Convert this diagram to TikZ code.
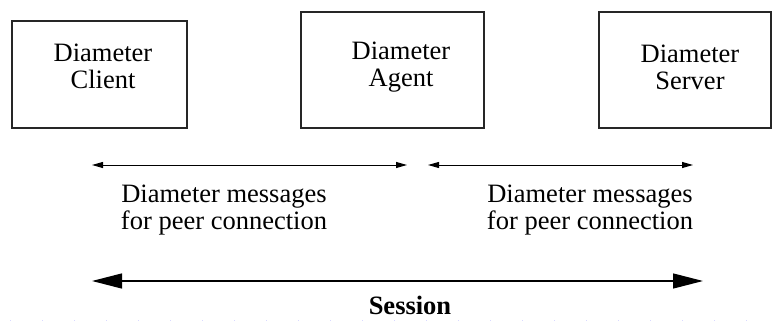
\documentclass[tikz,border=0pt]{standalone}
\usepackage{fontspec}
\setmainfont{Liberation Serif}
\usetikzlibrary{arrows.meta}
\begin{document}
\begin{tikzpicture}[x=1pt,y=-1pt,
  entity/.style={draw=black!85, line width=1.3pt, inner sep=0pt},
  lbl/.style={font=\fontsize{26.5}{27}\selectfont, align=center, inner sep=0pt},
  peer/.style={line width=1pt, {Triangle[length=11pt,width=6pt]}-{Triangle[length=11pt,width=6pt]}},
  sess/.style={line width=1.3pt, {Triangle[length=30pt,width=15pt]}-{Triangle[length=30pt,width=15pt]}}
]
\useasboundingbox (0,0) rectangle (772,321);
% boxes
\node[entity, minimum width=175pt, minimum height=107pt] (client) at (99.5,74.5) {};
\node[entity, minimum width=183pt, minimum height=116pt] (agent) at (392.5,70) {};
\node[entity, minimum width=172pt, minimum height=116pt] (server) at (685,70) {};
\node[lbl] (clientt) at (103,66) {Diameter\\Client};
\node[lbl] (agentt) at (401,67) {Diameter\\Agent};
\node[lbl] (servert) at (690,67) {Diameter\\Server};
% peer arrows
\coordinate (p1a) at (92,165);
\coordinate (p1b) at (407,165);
\coordinate (p2a) at (428,165);
\coordinate (p2b) at (693,165);
\draw[peer] (p1a) -- (p1b);
\draw[peer] (p2a) -- (p2b);
\node[lbl] (m1) at (224,210) {Diameter messages\\for peer connection};
\node[lbl] (m2) at (590,210) {Diameter messages\\for peer connection};
% session
\coordinate (sa) at (92,281);
\coordinate (sb) at (703,281);
\draw[sess] (sa) -- (sb);
\node[font=\fontsize{26.5}{27}\selectfont\bfseries, inner sep=0pt, anchor=base] (session) at (410,314) {Session};
% faint dotted edge
\coordinate (da) at (10,320);
\coordinate (db) at (772,320);
\draw[blue!15, line width=0.8pt, dash pattern=on 1pt off 31pt] (da) -- (db);
\end{tikzpicture}
\end{document}
